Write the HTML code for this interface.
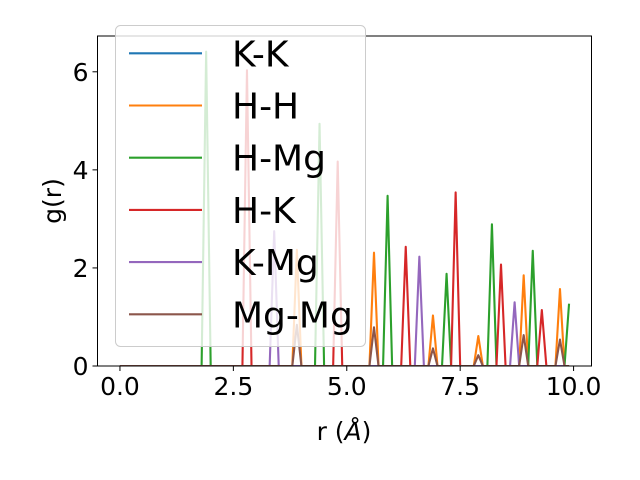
<!DOCTYPE html>
<html><head><meta charset="utf-8"><style>html,body{margin:0;padding:0;background:#fff}svg{display:block}text{font-family:"DejaVu Sans","Liberation Sans",sans-serif}</style></head>
<body>
<svg id="chart" width="640" height="480" viewBox="0 0 640 480" xmlns="http://www.w3.org/2000/svg">
<rect width="640" height="480" fill="#fff"/>
<g id="plot"></g>
</svg>
<script>
const seriesNames = ["K-K","H-H","H-Mg","H-K","K-Mg","Mg-Mg"];
const seriesColors = ["#1f77b4","#ff7f0e","#2ca02c","#d62728","#9467bd","#8c564b"];
// peak positions (r) and heights for each series; all other samples are 0
const kkPeakR = [];
const kkPeakG = [];
const hhPeakR = [3.9,5.6,6.9,7.9,8.9,9.7];
const hhPeakG = [2.37,2.31,1.03,0.61,1.85,1.57];
const hmgPeakR = [1.9,4.4,5.9,7.2,8.2,9.1,9.9];
const hmgPeakG = [6.41,4.94,3.47,1.88,2.89,2.35,1.27];
const hkPeakR = [2.8,4.8,6.3,7.4,8.4,9.3];
const hkPeakG = [6.03,4.17,2.43,3.54,2.07,1.14];
const kmgPeakR = [3.4,6.6,8.7];
const kmgPeakG = [2.75,2.23,1.30];
const mgmgPeakR = [3.9,5.6,6.9,7.9,8.9,9.7];
const mgmgPeakG = [0.84,0.79,0.36,0.22,0.63,0.54];
const xTicks = [0,2.5,5,7.5,10];
const xTickLabels = ["0.0","2.5","5.0","7.5","10.0"];
const yTicks = [0,2,4,6];
const yTickLabels = ["0","2","4","6"];

const peaksR = [kkPeakR,hhPeakR,hmgPeakR,hkPeakR,kmgPeakR,mgmgPeakR];
const peaksG = [kkPeakG,hhPeakG,hmgPeakG,hkPeakG,kmgPeakG,mgmgPeakG];
const L=97.5,R=591.5,T=36,B=366;
const xMin=-0.495,xMax=10.395,yMin=0,yMax=6.73;
const sx=v=>L+(v-xMin)/(xMax-xMin)*(R-L);
const sy=v=>B-(v-yMin)/(yMax-yMin)*(B-T);
const NS="http://www.w3.org/2000/svg";
const g=document.getElementById('plot');
function mk(tag,attrs,parent){const e=document.createElementNS(NS,tag);for(const k in attrs)e.setAttribute(k,attrs[k]);(parent||g).appendChild(e);return e;}
const defs=mk('defs',{});
const cp=mk('clipPath',{id:'clip'},defs);mk('rect',{x:L,y:T,width:R-L,height:B-T},cp);
const lines=mk('g',{'clip-path':'url(#clip)'});


for(let s=0;s<seriesNames.length;s++){
  const vals=[];
  for(let i=0;i<100;i++)vals.push(0);
  peaksR[s].forEach((r,j)=>{vals[Math.round(r*10)]=peaksG[s][j];});
  const pts=vals.map((v,i)=>sx(i/10).toFixed(2)+','+sy(v).toFixed(2)).join(' ');
  const pl=mk('polyline',{points:pts,fill:'none',stroke:seriesColors[s],'stroke-width':2.1,'stroke-linejoin':'round'},lines);
  
  
}
// axes spines
const ax=mk('rect',{x:L,y:T,width:R-L,height:B-T,fill:'none',stroke:'#000','stroke-width':1});


xTicks.forEach((t,i)=>{
  mk('line',{x1:sx(t),x2:sx(t),y1:B,y2:B+5,stroke:'#000','stroke-width':1});
  const tx=mk('text',{x:sx(t),y:B+29,'font-size':25,'text-anchor':'middle',fill:'#000'});
  tx.textContent=xTickLabels[i];
  
  
});
yTicks.forEach((t,i)=>{
  mk('line',{x1:L-5,x2:L,y1:sy(t),y2:sy(t),stroke:'#000','stroke-width':1});
  const tx=mk('text',{x:L-9,y:sy(t)+9,'font-size':25,'text-anchor':'end',fill:'#000'});
  tx.textContent=yTickLabels[i];
  
  
});
const xl=mk('text',{x:344,y:440,'font-size':25,'text-anchor':'middle',fill:'#000'});
xl.innerHTML='r (<tspan font-style="italic">Å</tspan>)';


const yl=mk('text',{x:0,y:0,'font-size':25,'text-anchor':'middle',fill:'#000',transform:'translate(61,201) rotate(-90)'});
yl.textContent='g(r)';


// legend
const lg=mk('g',{});


mk('rect',{x:115.5,y:25.5,width:250,height:321,rx:5,fill:'#fff','fill-opacity':0.8,stroke:'#ccc','stroke-width':1},lg);
seriesNames.forEach((n,i)=>{
  const y=53.3+i*52.2;
  const e=mk('g',{},lg);
  
  
  mk('line',{x1:129,x2:202,y1:y,y2:y,stroke:seriesColors[i],'stroke-width':2.1},e);
  const t=mk('text',{x:232,y:y+13,'font-size':36,fill:'#000'},e);
  t.textContent=n;
});
</script>
</body></html>
